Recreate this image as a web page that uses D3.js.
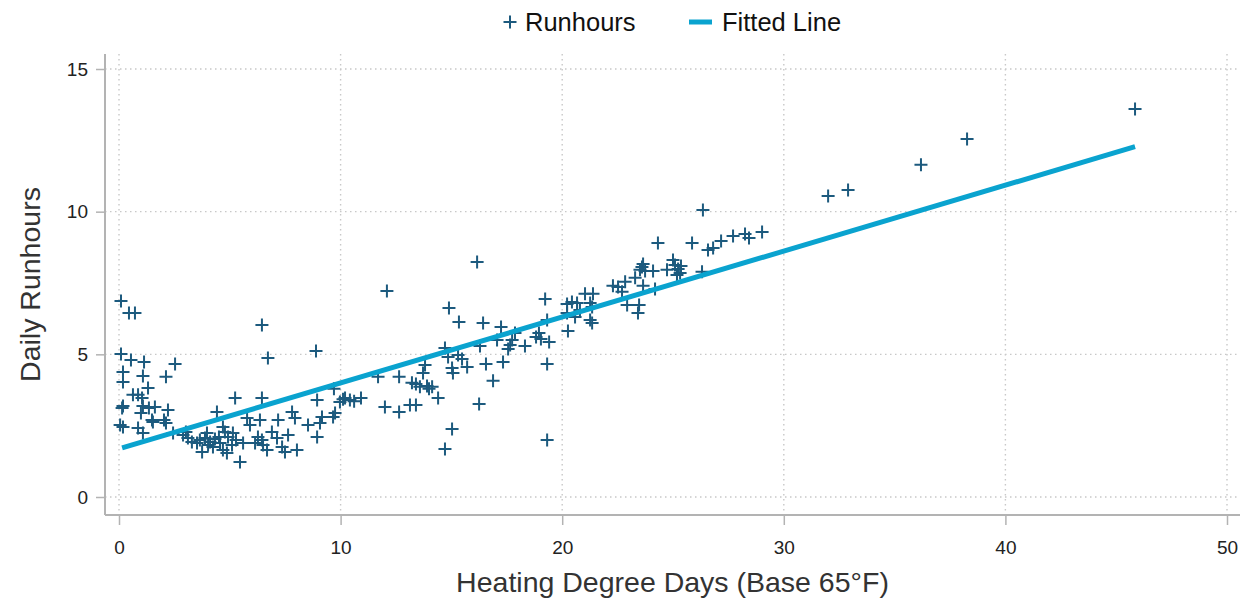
<!DOCTYPE html>
<html>
<head>
<meta charset="utf-8">
<script src="https://cdn.jsdelivr.net/npm/d3@7"></script>
<style>
  body { margin: 0; background: #fff; }
  text { font-family: "Liberation Sans", Arial, sans-serif; }
</style>
</head>
<body>
<div id="chart"></div>
<script>
// heating degree days (x) and daily runhours (y)
const hdd = [
    0.09, 0.45, 0.72, 0.09, 0.54, 1.13, 2.53, 0.18, 1.08, 2.12, 0.18, 1.31, 0.63, 0.86, 1.04, 0.18,
    0.14, 1.08, 1.35, 1.62, 2.21, 0.99, 1.49, 1.53, 2.03, 2.12, 0.05, 0.18, 0.86, 1.08, 2.44,
    2.89, 3.11, 3.29, 3.52, 3.88, 3.97, 4.02, 4.33, 4.42, 4.56, 4.69, 4.78, 4.69, 4.87, 4.92, 5.10,
    5.14, 5.24, 5.46, 5.60, 5.78, 5.91, 6.14, 6.27, 6.45, 6.50, 6.45, 6.45, 6.36, 6.68, 6.72, 6.90,
    7.18, 7.13, 7.36, 7.49, 7.63, 7.81, 7.94, 8.03, 8.53, 8.94, 8.89, 8.94, 9.07, 9.16, 9.66, 9.75,
    9.97, 10.20, 3.02, 3.65, 4.11, 4.24, 4.51, 3.75, 5.28,
    9.70, 10.11, 10.42, 10.61, 10.92, 11.69, 12.00, 12.09, 12.64, 12.64, 13.13, 13.40, 13.22, 13.40,
    13.81, 13.72, 13.58, 13.90, 13.99, 14.13, 14.40, 14.71, 14.85, 14.89, 15.03, 15.07, 15.03, 14.71,
    15.30, 15.48, 15.34, 15.71, 16.16, 16.29, 16.25, 16.43, 16.56, 16.88, 17.06, 17.24, 17.33, 17.56,
    17.65, 17.74, 17.87, 18.32, 18.82, 18.95, 19.04, 19.23, 19.32, 19.41, 19.32, 19.32,
    20.22, 20.44, 20.67, 20.26, 20.58, 20.22, 20.80, 21.03, 21.39, 21.26, 21.35, 21.26, 21.35,
    22.29, 22.52, 22.84, 22.70, 22.93, 23.47, 23.42, 23.29, 23.51, 23.60, 23.65, 23.74, 24.10, 23.65,
    24.19, 24.32, 24.73, 25.00, 25.09, 25.23, 25.36, 25.18, 25.32, 25.86, 26.31, 26.35, 26.58, 26.81,
    27.17, 27.71, 28.25, 28.43, 29.02,
    32.00, 32.90, 36.19, 38.27, 45.85
];
const runhours = [
    6.87, 6.45, 6.45, 5.01, 4.80, 4.73, 4.66, 4.38, 4.24, 4.21, 4.03, 3.82, 3.58, 3.58, 3.47, 3.19,
    3.12, 3.19, 3.12, 3.15, 3.05, 2.94, 2.70, 2.63, 2.70, 2.59, 2.52, 2.45, 2.42, 2.24, 2.24,
    2.17, 2.07, 1.93, 1.89, 2.07, 2.24, 1.82, 2.03, 2.98, 1.89, 2.45, 2.28, 1.65, 1.54, 2.10, 1.82,
    2.24, 3.47, 1.23, 1.89, 2.77, 2.52, 1.89, 2.10, 2.00, 1.82, 3.47, 6.03, 2.70, 1.65, 4.87, 2.28,
    2.70, 2.07, 1.75, 1.58, 2.17, 2.98, 2.77, 1.65, 2.52, 3.40, 5.12, 2.10, 2.59, 2.80, 2.80, 2.94,
    3.33, 3.47, 2.28, 2.00, 1.93, 1.75, 2.10, 1.58, 2.00,
    3.79, 3.43, 3.40, 3.36, 3.47, 4.21, 3.15, 7.22, 4.21, 2.98, 3.22, 3.22, 4.00, 3.96,
    4.63, 4.35, 3.86, 3.89, 3.79, 3.86, 3.47, 5.22, 4.91, 6.62, 4.52, 4.35, 2.38, 1.68,
    4.98, 4.84, 6.13, 4.56, 8.24, 5.29, 3.26, 6.10, 4.66, 4.07, 5.50, 5.96, 4.73, 5.19,
    5.33, 5.50, 5.75, 5.29, 5.61, 5.75, 5.54, 6.94, 6.20, 5.43, 4.66, 2.00,
    6.76, 6.83, 6.80, 5.82, 6.31, 6.45, 6.55, 7.12, 7.12, 6.80, 6.66, 6.20, 6.10,
    7.40, 7.36, 7.54, 7.19, 6.73, 6.73, 6.45, 7.68, 7.96, 8.06, 8.17, 7.92, 7.92, 7.40,
    7.29, 8.90, 7.96, 8.31, 8.13, 7.99, 8.10, 7.78, 7.85, 8.90, 7.89, 10.06, 8.66, 8.73,
    8.97, 9.15, 9.22, 9.08, 9.29,
    10.55, 10.76, 11.64, 12.55, 13.60
];
// fitted line end points
const fitX = [0.14, 45.85];
const fitY = [1.72, 12.28];

const xTicks = [0, 10, 20, 30, 40, 50];
const yTicks = [0, 5, 10, 15];
const seriesNames = ["Runhours", "Fitted Line"];

const dotColor = "#1c5a7e";
const lineColor = "#0aa3cf";
const axisColor = "#b3b3b3";
const gridColor = "#c8c8c8";

const W = 1246, H = 600;
const margin = { top: 54, right: 6, bottom: 85, left: 105 };

const svg = d3.select("#chart")
    .append("svg")
    .attr("width", W)
    .attr("height", H);

// scales, the data range sits a bit inside the frame
const x = d3.scaleLinear().domain([0, 50]).range([119, 1227]);
const y = d3.scaleLinear().domain([0, 15]).range([497, 69]);

const plotLeft = margin.left, plotRight = W - margin.right;
const plotTop = margin.top, plotBottom = H - margin.bottom;

// grid
svg.append("g")
    .selectAll("line")
    .data(xTicks)
    .join("line")
    .attr("x1", d => x(d)).attr("x2", d => x(d))
    .attr("y1", plotTop).attr("y2", plotBottom)
    .attr("stroke", gridColor).attr("stroke-width", 1.4)
    .attr("stroke-dasharray", "1.5,3.5");
svg.append("g")
    .selectAll("line")
    .data(yTicks)
    .join("line")
    .attr("x1", plotLeft).attr("x2", plotRight)
    .attr("y1", d => y(d)).attr("y2", d => y(d))
    .attr("stroke", gridColor).attr("stroke-width", 1.4)
    .attr("stroke-dasharray", "1.5,3.5");

// X axis
const xAxis = svg.append("g")
    .attr("transform", `translate(0, ${plotBottom})`)
    .call(d3.axisBottom(x).tickValues(xTicks).tickSize(10).tickPadding(16));
xAxis.select(".domain").attr("d", `M${plotLeft},0H${plotRight}`);
// Y axis
const yAxis = svg.append("g")
    .attr("transform", `translate(${plotLeft}, 0)`)
    .call(d3.axisLeft(y).tickValues(yTicks).tickSize(9).tickPadding(8));
yAxis.select(".domain").attr("d", `M0,${plotTop}V${plotBottom}`);

svg.selectAll(".domain").attr("stroke", axisColor).attr("stroke-width", 2);
svg.selectAll(".tick line").attr("stroke", axisColor).attr("stroke-width", 1.5);
svg.selectAll(".tick text")
    .attr("font-family", "Liberation Sans, Arial, sans-serif")
    .attr("font-size", "19px")
    .attr("fill", "#222");

// axis titles
svg.append("text")
    .attr("x", (plotLeft + plotRight) / 2).attr("y", 592)
    .attr("text-anchor", "middle")
    .attr("font-size", "28.5px").attr("fill", "#333")
    .text("Heating Degree Days (Base 65°F)");
svg.append("text")
    .attr("transform", `translate(40, ${(plotTop + plotBottom) / 2}) rotate(-90)`)
    .attr("text-anchor", "middle")
    .attr("font-size", "28.5px").attr("fill", "#333")
    .text("Daily Runhours");

// points
const pts = hdd.map((d, i) => ({ x: d, y: runhours[i] }));
const plus = "M-6.5,0H6.5M0,-6.5V6.5";
svg.append("g")
    .selectAll("path")
    .data(pts)
    .join("path")
    .attr("transform", d => `translate(${x(d.x)},${y(d.y)})`)
    .attr("d", plus)
    .attr("stroke", dotColor)
    .attr("stroke-width", 2)
    .attr("fill", "none");

// fitted line
svg.append("path")
    .datum(fitX.map((d, i) => [d, fitY[i]]))
    .attr("d", d3.line().x(d => x(d[0])).y(d => y(d[1])))
    .attr("stroke", lineColor)
    .attr("stroke-width", 5)
    .attr("fill", "none");

// legend
svg.append("path").attr("transform", "translate(510,22)").attr("d", plus)
    .attr("stroke", dotColor).attr("stroke-width", 2);
svg.append("text").attr("x", 525).attr("y", 31).text(seriesNames[0])
    .attr("font-size", "25.5px").attr("fill", "#111");
svg.append("line").attr("x1", 689).attr("x2", 712).attr("y1", 22).attr("y2", 22)
    .attr("stroke", lineColor).attr("stroke-width", 5);
svg.append("text").attr("x", 722).attr("y", 31).text(seriesNames[1])
    .attr("font-size", "25.5px").attr("fill", "#111");
</script>
</body>
</html>
